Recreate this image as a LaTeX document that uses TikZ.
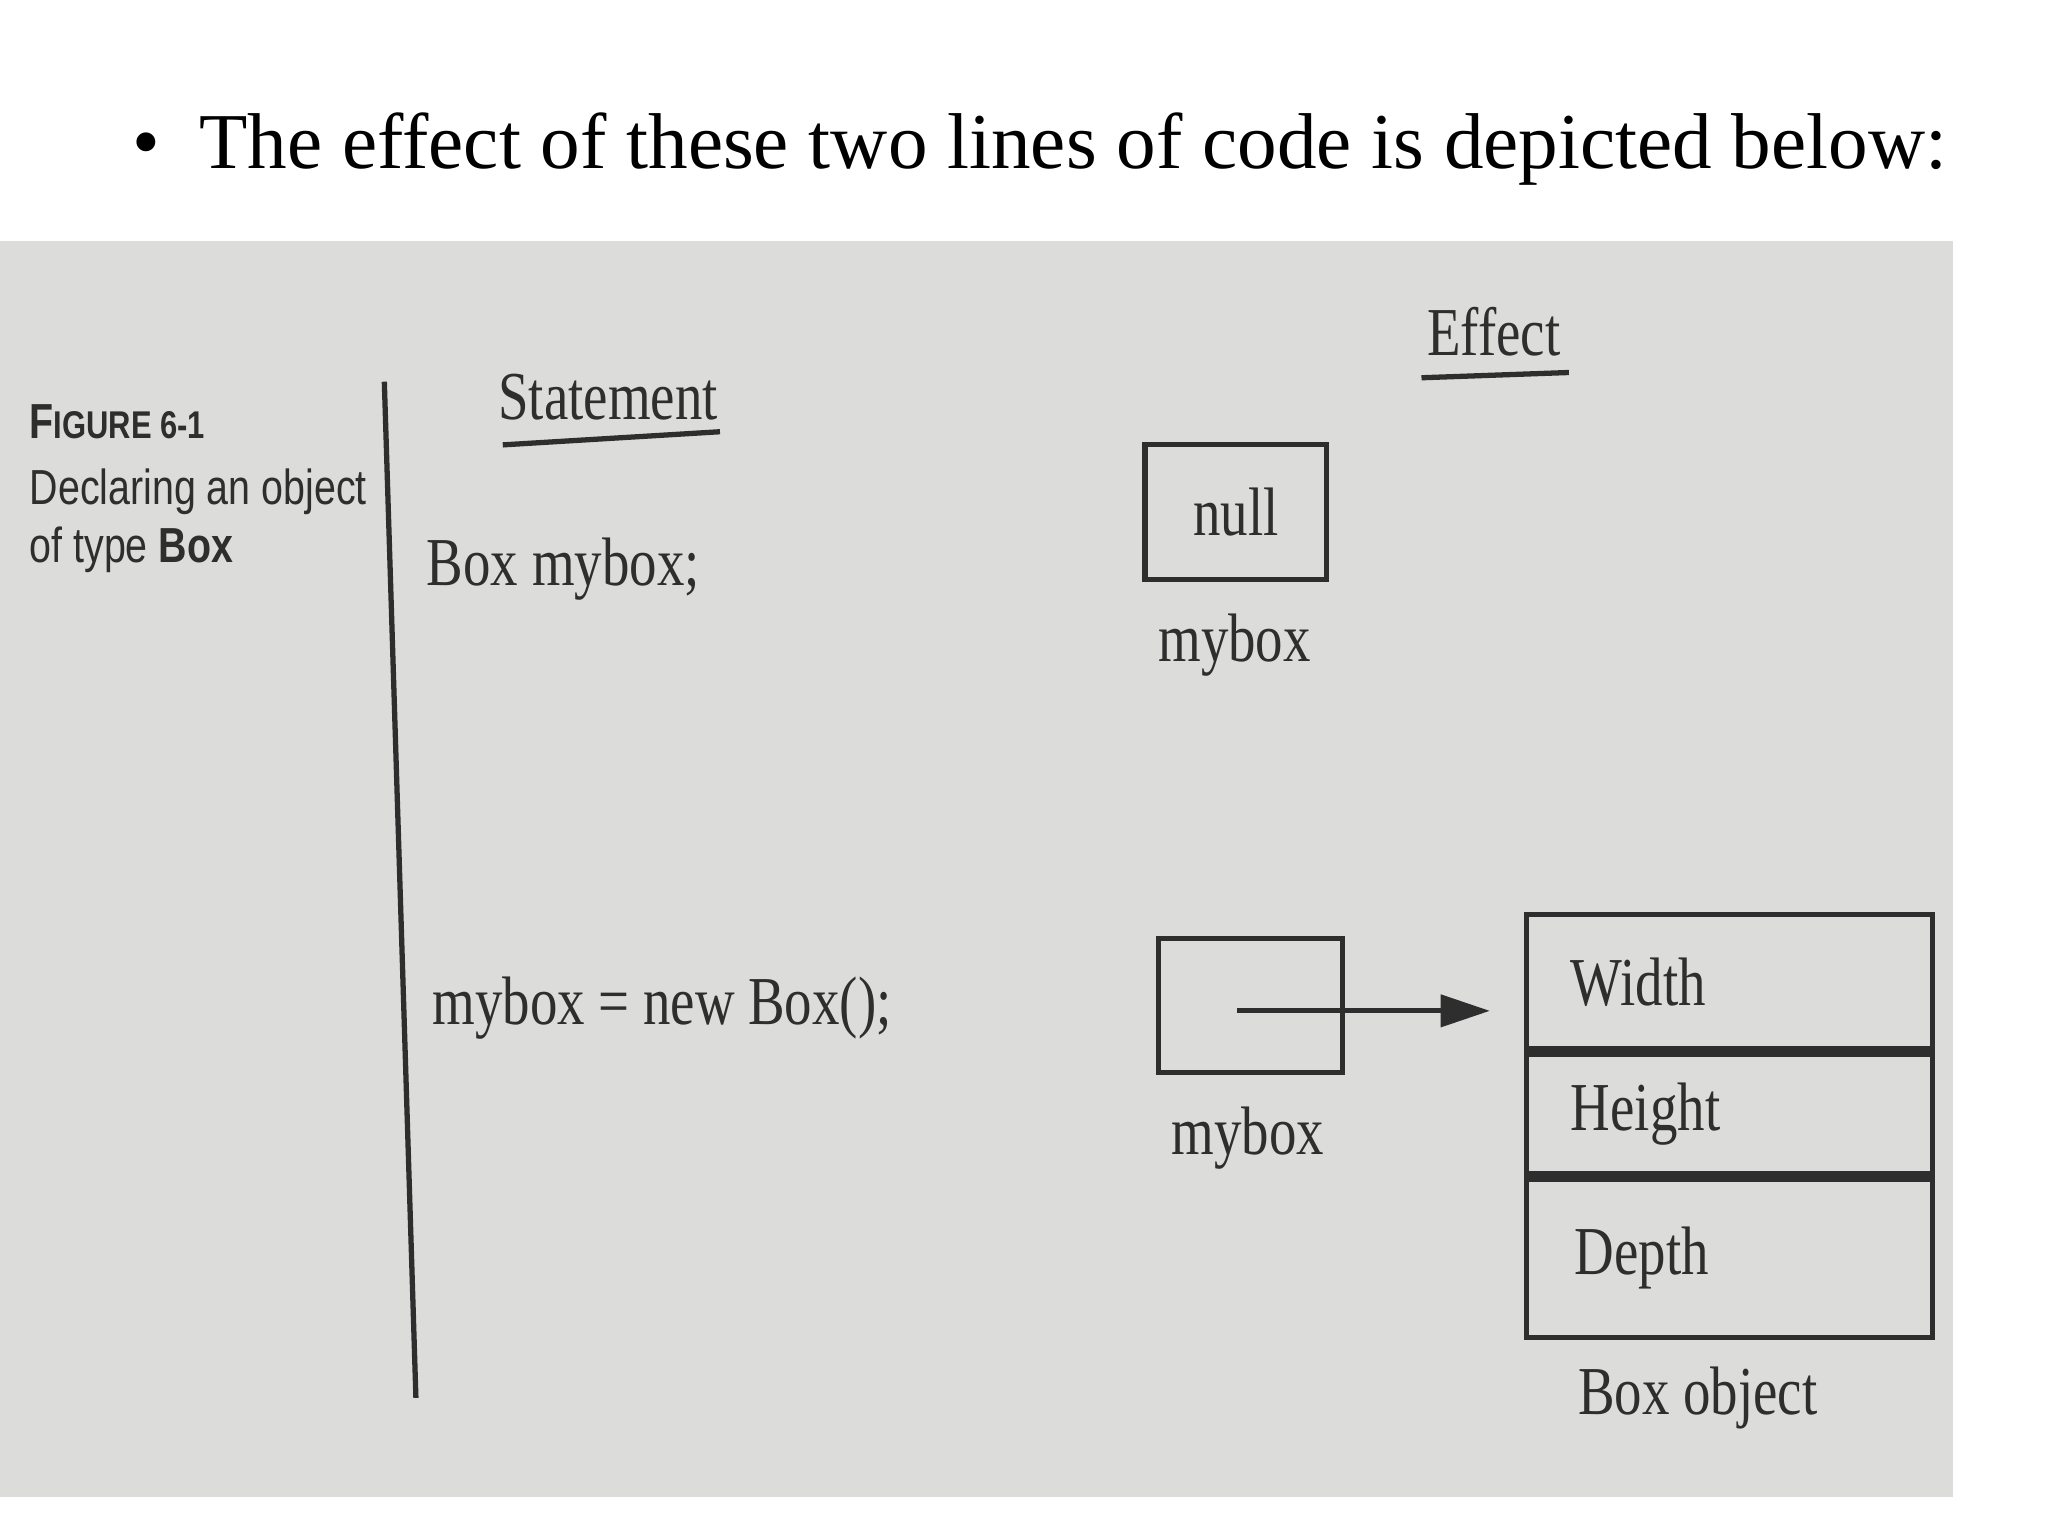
\documentclass[tikz,border=0pt]{standalone}
\usepackage{fontspec}
\setmainfont{Liberation Serif}
\newfontfamily\figsans{Liberation Sans}
\usepackage{graphicx}
\usetikzlibrary{arrows.meta}
\newcommand{\cnd}[1]{\scalebox{0.8}[1]{#1}}
\newcommand{\cns}[1]{\scalebox{0.8}[1]{#1}}
\definecolor{page}{HTML}{DCDCDA}
\definecolor{ink}{HTML}{2E2E2E}
\tikzset{
 lbl/.style={text=ink,font=\fontsize{19.5}{22}\selectfont,inner sep=0pt},
 figcap/.style={text=ink,font=\figsans\fontsize{14}{17}\selectfont,inner sep=0pt,anchor=base west},
 ln/.style={draw=ink,line width=1.5pt},
 cell/.style={draw=ink,line width=1.5pt}
}
\begin{document}
\begin{tikzpicture}[x=0.01316cm,y=-0.01316cm]
\useasboundingbox (0,0) rectangle (1556,1168);
\fill[page] (0,183) rectangle (1484,1137);
\node[anchor=base west,inner sep=0pt,font=\fontsize{22.5}{26}\selectfont] (title) at (100,128) {\textbullet\ \ The effect of these two lines of code is depicted below:};
\node[figcap] (fig) at (22,333) {\cns{\textbf{F\fontsize{11}{13}\selectfont IGURE 6-1}}};
\node[figcap] (decl) at (22,383) {\cns{Declaring an object}};
\node[figcap] (oftype) at (22,427) {\cns{of type \textbf{Box}}};
\coordinate (vt) at (292,290); \coordinate (vb) at (316,1062);
\draw[ln] (vt) -- (vb);
\node[lbl] (stmt) at (462,302) {\cnd{Statement}};
\coordinate (su1) at (382,338); \coordinate (su2) at (547,328);
\draw[ln] (su1) -- (su2);
\node[lbl] (eff) at (1135,252) {\cnd{Effect}};
\coordinate (eu1) at (1080,287); \coordinate (eu2) at (1192,283);
\draw[ln] (eu1) -- (eu2);
\node[lbl] (s1) at (428,432) {\cnd{Box mybox;}};
\node[cell,minimum width=138*0.01316cm,minimum height=103*0.01316cm,inner sep=0pt] (nullbox) at (939,389) {};
\node[lbl] at (nullbox) {\cnd{null}};
\node[lbl] (mb1) at (938,490) {\cnd{mybox}};
\node[lbl] (s2) at (503,766) {\cnd{mybox = new Box();}};
\node[cell,minimum width=140*0.01316cm,minimum height=102*0.01316cm,inner sep=0pt] (refbox) at (950,764) {};
\coordinate (as) at (940,768);
\node[lbl] (mb2) at (948,865) {\cnd{mybox}};
\node[cell,minimum width=308*0.01316cm,minimum height=102*0.01316cm,inner sep=0pt] (w) at (1314,746) {};
\node[cell,minimum width=308*0.01316cm,minimum height=91*0.01316cm,inner sep=0pt,anchor=north] (h) at (w.south) {};
\node[cell,minimum width=308*0.01316cm,minimum height=120*0.01316cm,inner sep=0pt,anchor=north] (d) at (h.south) {};
\draw[ln,-{Triangle[length=14pt,width=9pt]}] (as) -- ([xshift=-26*0.01316cm]w.west |- as);
\node[lbl,anchor=west] at ([xshift=35*0.01316cm]w.west) {\cnd{Width}};
\node[lbl,anchor=west] at ([xshift=35*0.01316cm]h.west) {\cnd{Height}};
\node[lbl,anchor=west] at ([xshift=38*0.01316cm]d.west) {\cnd{Depth}};
\node[lbl] (bo) at (1290,1062) {\cnd{Box object}};
\end{tikzpicture}
\end{document}
